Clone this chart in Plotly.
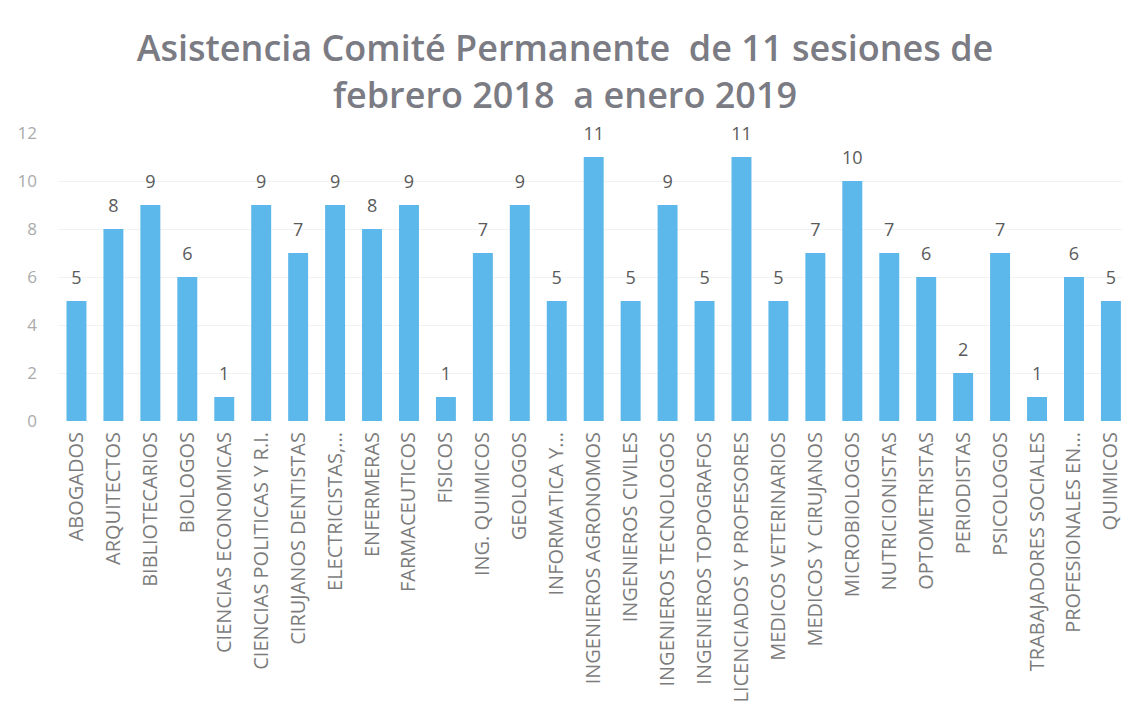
import plotly.graph_objects as go

categorias = ["ABOGADOS", "ARQUITECTOS", "BIBLIOTECARIOS", "BIOLOGOS", "CIENCIAS ECONOMICAS",
              "CIENCIAS POLITICAS Y R.I.", "CIRUJANOS DENTISTAS", "ELECTRICISTAS,...", "ENFERMERAS",
              "FARMACEUTICOS", "FISICOS", "ING. QUIMICOS", "GEOLOGOS", "INFORMATICA Y...",
              "INGENIEROS AGRONOMOS", "INGENIEROS CIVILES", "INGENIEROS TECNOLOGOS",
              "INGENIEROS TOPOGRAFOS", "LICENCIADOS Y PROFESORES", "MEDICOS VETERINARIOS",
              "MEDICOS Y CIRUJANOS", "MICROBIOLOGOS", "NUTRICIONISTAS", "OPTOMETRISTAS",
              "PERIODISTAS", "PSICOLOGOS", "TRABAJADORES SOCIALES", "PROFESIONALES EN...", "QUIMICOS"]
asistencia = [5, 8, 9, 6, 1, 9, 7, 9, 8, 9, 1, 7, 9, 5, 11, 5, 9, 5, 11, 5, 7, 10, 7, 6, 2, 7, 1, 6, 5]
y_ticks = [0, 2, 4, 6, 8, 10, 12]

fig = go.Figure()
fig.add_trace(go.Bar(
    x=categorias, y=asistencia,
    marker=dict(color="#5cb7ea", line=dict(width=0)),
    hoverinfo="x+y",
))
# value labels, lifted above the bars via an invisible marker
fig.add_trace(go.Scatter(
    x=categorias, y=asistencia, mode="markers+text",
    text=[str(v) for v in asistencia], textposition="top center",
    marker=dict(size=18, color="rgba(0,0,0,0)"),
    textfont=dict(family="Open Sans", size=18, color="#5a5a5a"),
    cliponaxis=False, hoverinfo="skip",
))

fig.update_layout(
    width=1114, height=706,
    paper_bgcolor="white", plot_bgcolor="white",
    margin=dict(l=50, r=0, t=125, b=293),
    bargap=0.46,
    showlegend=False,
    title=dict(text="Asistencia Comité Permanente  de 11 sesiones de<br>febrero 2018  a enero 2019",
               x=0.5, xanchor="center", y=0.925, yanchor="top",
               font=dict(family="Open Sans", size=36, color="#7b7b84", weight=600)),
    xaxis=dict(tickangle=-90, tickfont=dict(family="Open Sans", size=20, color="#7c7c7c"),
               showgrid=False, showline=False, ticks="", range=[-0.5, 28.3],
               ticklabelstandoff=6),
    yaxis=dict(range=[0, 12], tickvals=y_ticks, tickfont=dict(family="Open Sans", size=17, color="#ababab"),
               showgrid=True, gridcolor="#f2f2f2", zeroline=False, showline=False, ticks="",
               ticklabelstandoff=20),
)

fig.write_html("out.html")
